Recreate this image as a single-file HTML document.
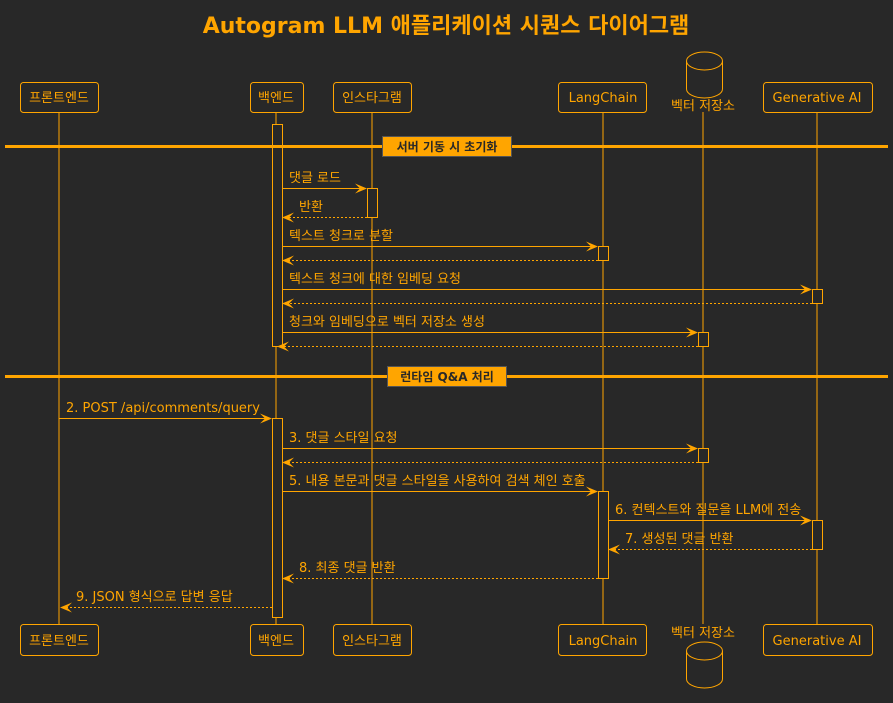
<!DOCTYPE html>
<html><head><meta charset="utf-8"><style>
html,body{margin:0;padding:0;background:#282828}
svg{display:block}
text{font-family:"DejaVu Sans","Noto Sans CJK KR",sans-serif;fill:#FFA500}
</style></head><body>
<svg width="893" height="703" viewBox="0 0 893 703" xmlns="http://www.w3.org/2000/svg">
<rect width="893" height="703" fill="#282828"/>
<text x="446" y="33" font-size="22" font-weight="bold" text-anchor="middle">Autogram LLM 애플리케이션 시퀀스 다이어그램</text>
<g stroke="#FFA500" stroke-width="1" fill="none">
<line x1="59" y1="112" x2="59" y2="624"/>
<line x1="276" y1="112" x2="276" y2="624"/>
<line x1="372" y1="112" x2="372" y2="624"/>
<line x1="603" y1="112" x2="603" y2="624"/>
<line x1="703" y1="112" x2="703" y2="624"/>
<line x1="817" y1="112" x2="817" y2="624"/>
</g>
<g stroke="#FFA500" stroke-width="1" fill="#282828">
<rect x="272.5" y="124.5" width="10" height="222"/>
<rect x="272.5" y="418.5" width="10" height="199"/>
<rect x="367.5" y="188.5" width="10" height="29"/>
<rect x="598.5" y="246.5" width="10" height="14"/>
<rect x="812.5" y="289.5" width="10" height="14"/>
<rect x="698.5" y="332.5" width="10" height="14"/>
<rect x="698.5" y="448.5" width="10" height="14"/>
<rect x="598.5" y="491.5" width="10" height="87"/>
<rect x="812.5" y="520.5" width="10" height="29"/>
</g>
<g stroke="#FFA500" stroke-width="1" fill="#282828">
<rect x="20.5" y="82.5" width="78" height="30" rx="3"/>
<rect x="250.5" y="82.5" width="53" height="30" rx="3"/>
<rect x="333.5" y="82.5" width="78" height="30" rx="3"/>
<rect x="558.5" y="82.5" width="88" height="30" rx="3"/>
<rect x="763.5" y="82.5" width="109" height="30" rx="3"/>
<rect x="20.5" y="624.5" width="78" height="31" rx="3"/>
<rect x="250.5" y="624.5" width="53" height="31" rx="3"/>
<rect x="333.5" y="624.5" width="78" height="31" rx="3"/>
<rect x="558.5" y="624.5" width="88" height="31" rx="3"/>
<rect x="763.5" y="624.5" width="109" height="31" rx="3"/>
<path d="M686.5,61 a18,9 0 0 1 36,0 v28 a18,9 0 0 1 -36,0 z"/>
<path d="M686.5,61 a18,9 0 0 0 36,0" fill="none"/>
<path d="M686.5,651 a18,9 0 0 1 36,0 v28 a18,9 0 0 1 -36,0 z"/>
<path d="M686.5,651 a18,9 0 0 0 36,0" fill="none"/>
</g>
<g font-size="13" text-anchor="middle">
<text x="59" y="102">프론트엔드</text><text x="276" y="102">백엔드</text><text x="372" y="102">인스타그램</text>
<text x="603" y="102">LangChain</text><text x="703" y="110">벡터 저장소</text><text x="817" y="102">Generative AI</text>
<text x="59" y="645">프론트엔드</text><text x="276" y="645">백엔드</text><text x="372" y="645">인스타그램</text>
<text x="603" y="645">LangChain</text><text x="703" y="637">벡터 저장소</text><text x="817" y="645">Generative AI</text>
</g>
<rect x="5" y="145" width="883" height="3" fill="#FFA500"/>
<rect x="382.5" y="136.5" width="129" height="20" fill="#FFA500" stroke="#555"/>
<text x="447" y="151" font-size="12" font-weight="bold" text-anchor="middle" style="fill:#282828">서버 기동 시 초기화</text>
<rect x="5" y="375" width="883" height="3" fill="#FFA500"/>
<rect x="387.5" y="366.5" width="119" height="20" fill="#FFA500" stroke="#555"/>
<text x="447" y="381" font-size="12" font-weight="bold" text-anchor="middle" style="fill:#282828">런타임 Q&amp;A 처리</text>
<g stroke="#FFA500" stroke-width="1" fill="none">
<line x1="282" y1="188.5" x2="366" y2="188.5"/>
<line x1="367" y1="217.5" x2="283" y2="217.5" stroke-dasharray="2,2"/>
<line x1="282" y1="246.5" x2="597" y2="246.5"/>
<line x1="598" y1="260.5" x2="283" y2="260.5" stroke-dasharray="2,2"/>
<line x1="282" y1="289.5" x2="811" y2="289.5"/>
<line x1="812" y1="303.5" x2="283" y2="303.5" stroke-dasharray="2,2"/>
<line x1="282" y1="332.5" x2="697" y2="332.5"/>
<line x1="698" y1="346.5" x2="278" y2="346.5" stroke-dasharray="2,2"/>
<line x1="59" y1="418.5" x2="270" y2="418.5"/>
<line x1="282" y1="448.5" x2="697" y2="448.5"/>
<line x1="698" y1="462.5" x2="283" y2="462.5" stroke-dasharray="2,2"/>
<line x1="282" y1="491.5" x2="597" y2="491.5"/>
<line x1="608" y1="520.5" x2="811" y2="520.5"/>
<line x1="812" y1="549.5" x2="610" y2="549.5" stroke-dasharray="2,2"/>
<line x1="598" y1="578.5" x2="283" y2="578.5" stroke-dasharray="2,2"/>
<line x1="272" y1="607.5" x2="61" y2="607.5" stroke-dasharray="2,2"/>
</g>
<g fill="#FFA500">
<polygon points="367,188.5 355,183.5 360,188.5 355,193.5"/>
<polygon points="282,217.5 294,212.5 289,217.5 294,222.5"/>
<polygon points="598,246.5 586,241.5 591,246.5 586,251.5"/>
<polygon points="282,260.5 294,255.5 289,260.5 294,265.5"/>
<polygon points="812,289.5 800,284.5 805,289.5 800,294.5"/>
<polygon points="282,303.5 294,298.5 289,303.5 294,308.5"/>
<polygon points="698,332.5 686,327.5 691,332.5 686,337.5"/>
<polygon points="277,346.5 289,341.5 284,346.5 289,351.5"/>
<polygon points="272,418.5 260,413.5 265,418.5 260,423.5"/>
<polygon points="698,448.5 686,443.5 691,448.5 686,453.5"/>
<polygon points="282,462.5 294,457.5 289,462.5 294,467.5"/>
<polygon points="598,491.5 586,486.5 591,491.5 586,496.5"/>
<polygon points="812,520.5 800,515.5 805,520.5 800,525.5"/>
<polygon points="608,549.5 620,544.5 615,549.5 620,554.5"/>
<polygon points="282,578.5 294,573.5 289,578.5 294,583.5"/>
<polygon points="60,607.5 72,602.5 67,607.5 72,612.5"/>
</g>
<g font-size="13">
<text x="289" y="182">댓글 로드</text>
<text x="299" y="211">반환</text>
<text x="289" y="240">텍스트 청크로 분할</text>
<text x="289" y="283">텍스트 청크에 대한 임베딩 요청</text>
<text x="289" y="326">청크와 임베딩으로 벡터 저장소 생성</text>
<text x="66" y="412">2. POST /api/comments/query</text>
<text x="289" y="442">3. 댓글 스타일 요청</text>
<text x="289" y="485">5. 내용 본문과 댓글 스타일을 사용하여 검색 체인 호출</text>
<text x="615" y="514">6. 컨텍스트와 질문을 LLM에 전송</text>
<text x="625" y="543">7. 생성된 댓글 반환</text>
<text x="299" y="572">8. 최종 댓글 반환</text>
<text x="76" y="601">9. JSON 형식으로 답변 응답</text>
</g>
</svg>
</body></html>
